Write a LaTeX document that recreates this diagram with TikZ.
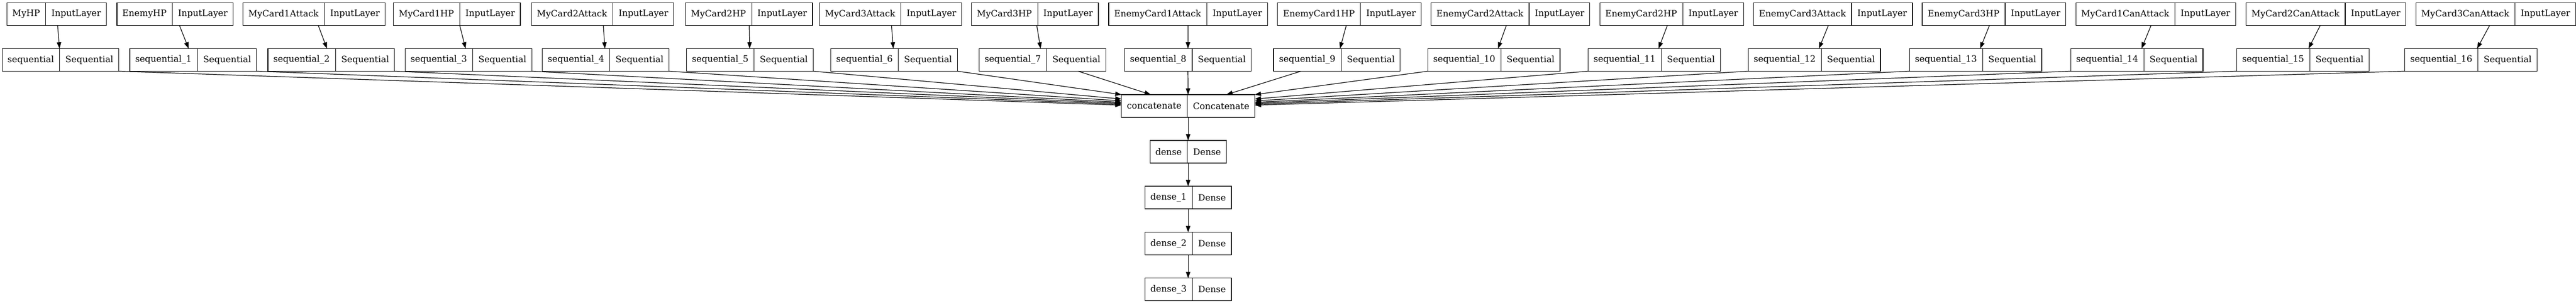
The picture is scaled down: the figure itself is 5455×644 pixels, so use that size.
\documentclass[tikz,border=0pt]{standalone}
\usepackage{fontspec}
\setmainfont{DejaVu Serif}
\usetikzlibrary{shapes.multipart,arrows.meta,calc}
\begin{document}
\begin{tikzpicture}[x=0.75pt,y=-0.75pt,
  rec/.style={draw=black, line width=1pt, rectangle split, rectangle split horizontal,
    rectangle split parts=2, inner xsep=8.6pt, inner ysep=9pt, minimum height=36pt,
    outer sep=0pt, fill=white, font=\fontsize{14pt}{16pt}\selectfont},
  edge/.style={line width=1pt, draw=black, -{Triangle[length=10pt,width=7pt]}}]
\useasboundingbox (0,0) rectangle (5455,644);
% input layers
\node[rec] (in0)  at (120,30)  {MyHP \nodepart{two} InputLayer};
\node[rec] (in1)  at (370.5,30) {EnemyHP \nodepart{two} InputLayer};
\node[rec] (in2)  at (665,30)  {MyCard1Attack \nodepart{two} InputLayer};
\node[rec] (in3)  at (967.5,30) {MyCard1HP \nodepart{two} InputLayer};
\node[rec] (in4)  at (1276,30) {MyCard2Attack \nodepart{two} InputLayer};
\node[rec] (in5)  at (1586,30) {MyCard2HP \nodepart{two} InputLayer};
\node[rec] (in6)  at (1886,30) {MyCard3Attack \nodepart{two} InputLayer};
\node[rec] (in7)  at (2191.5,30) {MyCard3HP \nodepart{two} InputLayer};
\node[rec] (in8)  at (2516,30) {EnemyCard1Attack \nodepart{two} InputLayer};
\node[rec] (in9)  at (2857.5,30) {EnemyCard1HP \nodepart{two} InputLayer};
\node[rec] (in10) at (3198.5,30) {EnemyCard2Attack \nodepart{two} InputLayer};
\node[rec] (in11) at (3540,30) {EnemyCard2HP \nodepart{two} InputLayer};
\node[rec] (in12) at (3881.5,30) {EnemyCard3Attack \nodepart{two} InputLayer};
\node[rec] (in13) at (4222.5,30) {EnemyCard3HP \nodepart{two} InputLayer};
\node[rec] (in14) at (4565,30) {MyCard1CanAttack \nodepart{two} InputLayer};
\node[rec] (in15) at (4925.5,30) {MyCard2CanAttack \nodepart{two} InputLayer};
\node[rec] (in16) at (5285,30) {MyCard3CanAttack \nodepart{two} InputLayer};
% sequential layers
\node[rec] (sq0)  at (128,127)   {sequential \nodepart{two} Sequential};
\node[rec] (sq1)  at (409,127)   {sequential\_1 \nodepart{two} Sequential};
\node[rec] (sq2)  at (701.4,127) {sequential\_2 \nodepart{two} Sequential};
\node[rec] (sq3)  at (992,127)   {sequential\_3 \nodepart{two} Sequential};
\node[rec] (sq4)  at (1282.5,127) {sequential\_4 \nodepart{two} Sequential};
\node[rec] (sq5)  at (1588,127)  {sequential\_5 \nodepart{two} Sequential};
\node[rec] (sq6)  at (1893.5,127) {sequential\_6 \nodepart{two} Sequential};
\node[rec] (sq7)  at (2207.5,127) {sequential\_7 \nodepart{two} Sequential};
\node[rec] (sq8)  at (2515.5,127) {sequential\_8 \nodepart{two} Sequential};
\node[rec] (sq9)  at (2831,127)  {sequential\_9 \nodepart{two} Sequential};
\node[rec] (sq10) at (3163.5,127) {sequential\_10 \nodepart{two} Sequential};
\node[rec] (sq11) at (3503,127)  {sequential\_11 \nodepart{two} Sequential};
\node[rec] (sq12) at (3842,127)  {sequential\_12 \nodepart{two} Sequential};
\node[rec] (sq13) at (4183.5,127) {sequential\_13 \nodepart{two} Sequential};
\node[rec] (sq14) at (4525,127)  {sequential\_14 \nodepart{two} Sequential};
\node[rec] (sq15) at (4876.5,127) {sequential\_15 \nodepart{two} Sequential};
\node[rec] (sq16) at (5232.5,127) {sequential\_16 \nodepart{two} Sequential};
% trunk
\node[rec] (cat) at (2516,224.7) {concatenate \nodepart{two} Concatenate};
\node[rec] (d0)  at (2516,321.8) {dense \nodepart{two} Dense};
\node[rec] (d1)  at (2516,419)   {dense\_1 \nodepart{two} Dense};
\node[rec] (d2)  at (2516,516.7) {dense\_2 \nodepart{two} Dense};
\node[rec] (d3)  at (2516,614)   {dense\_3 \nodepart{two} Dense};
% input -> sequential
\foreach \i in {0,...,16} { \draw[edge] (in\i) -- (sq\i); }
% sequential -> concatenate (left)
\draw[edge] (sq6.south east) -- (cat.north west);
\draw[edge] (sq5.south east) -- ($(cat.west)+(0,-14.7)$);
\draw[edge] (sq4.south east) -- ($(cat.west)+(0,-10.7)$);
\draw[edge] (sq3.south east) -- ($(cat.west)+(0,-7.7)$);
\draw[edge] (sq2.south east) -- ($(cat.west)+(0,-5.7)$);
\draw[edge] (sq1.south east) -- ($(cat.west)+(0,-3.7)$);
\draw[edge] (sq0.south east) -- ($(cat.west)+(0,-1.7)$);
% top
\draw[edge] ($(sq7.south)+(75.5,0)$) -- ($(cat.north)+(-79,0)$);
\draw[edge] (sq8) -- (cat);
\draw[edge] ($(sq9.south)+(-76,0)$) -- ($(cat.north)+(81,0)$);
% right
\draw[edge] (sq10.south west) -- (cat.north east);
\draw[edge] (sq11.south west) -- ($(cat.east)+(0,-14.7)$);
\draw[edge] (sq12.south west) -- ($(cat.east)+(0,-10.7)$);
\draw[edge] (sq13.south west) -- ($(cat.east)+(0,-7.7)$);
\draw[edge] (sq14.south west) -- ($(cat.east)+(0,-5.7)$);
\draw[edge] (sq15.south west) -- ($(cat.east)+(0,-3.7)$);
\draw[edge] (sq16.south west) -- ($(cat.east)+(0,-1.7)$);
% dense chain
\draw[edge] (cat) -- (d0);
\draw[edge] (d0) -- (d1);
\draw[edge] (d1) -- (d2);
\draw[edge] (d2) -- (d3);
\end{tikzpicture}
\end{document}
